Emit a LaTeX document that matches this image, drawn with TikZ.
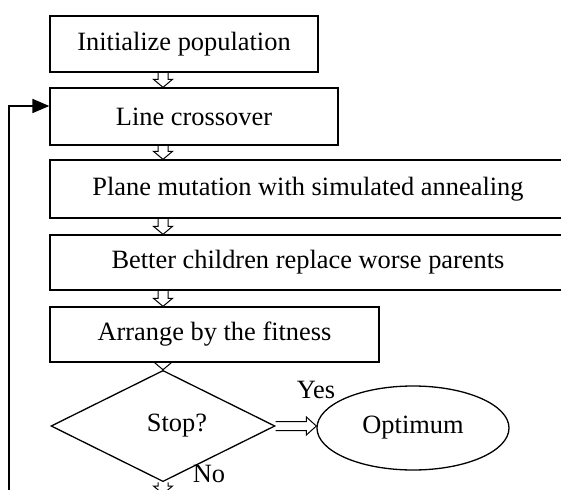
\documentclass[tikz,border=0pt]{standalone}
\usepackage{fontspec}
\setmainfont{Liberation Serif}
\usetikzlibrary{shapes.geometric,arrows.meta,calc}

\tikzset{
  flowtext/.style={font=\fontsize{26.4}{30}\selectfont, inner sep=0pt},
  stepbox/.style={flowtext, draw, line width=1.3pt},
  hollowdown/.style={line width=1pt, to path={let \p1=(\tikztostart), \p2=(\tikztotarget) in
    (\x1-5pt,\y1) -- (\x1-5pt,\y2+8pt) -- (\x1-9.5pt,\y2+8pt) -- (\x1,\y2)
    -- (\x1+9.5pt,\y2+8pt) -- (\x1+5pt,\y2+8pt) -- (\x1+5pt,\y1)}},
  hollowright/.style={line width=1pt, to path={let \p1=(\tikztostart), \p2=(\tikztotarget) in
    (\x1,\y1+4.5pt) -- (\x2-10pt,\y1+4.5pt) -- (\x2-10pt,\y1+9pt) -- (\x2,\y1)
    -- (\x2-10pt,\y1-9pt) -- (\x2-10pt,\y1-4.5pt) -- (\x1,\y1-4.5pt)}},
  loopline/.style={line width=1.8pt, -{Triangle[length=17pt,width=14pt]}}
}

\begin{document}
\begin{tikzpicture}[x=1pt, y=-1pt]
\useasboundingbox (0,0) rectangle (561,489);
\clip (0,0) rectangle (561,489);
\node[stepbox, minimum width=268pt, minimum height=56pt] (init) at (184,44) {Initialize population};
\node[stepbox, minimum width=288pt, minimum height=57pt] (cross) at (194,116.5) {Line crossover};
\node[stepbox, minimum width=516pt, minimum height=58pt] (mutate) at (308,189) {Plane mutation with simulated annealing};
\node[stepbox, minimum width=516pt, minimum height=55pt] (replace) at (308,262.5) {Better children replace worse parents};
\node[stepbox, minimum width=329pt, minimum height=55pt] (arrange) at (214.5,334.5) {Arrange by the fitness};
\node[stepbox, diamond, minimum width=224pt, minimum height=88pt] (stop) at (163,426) {\hspace*{28pt}Stop?};
\node[stepbox, ellipse, minimum width=192pt, minimum height=84pt] (opt) at (413,428) {Optimum};
\node[flowtext] (yes) at (316,390) {Yes};
\node[flowtext] (no) at (209,474) {No};
\coordinate (nofoot) at (163,494);
\coordinate (loopfoot) at (9,495);
\draw[hollowdown] (init.south -| stop.north) to (cross.north -| stop.north);
\draw[hollowdown] (cross.south -| stop.north) to (mutate.north -| stop.north);
\draw[hollowdown] (mutate.south -| stop.north) to (replace.north -| stop.north);
\draw[hollowdown] (replace.south -| stop.north) to (arrange.north -| stop.north);
\draw[hollowdown] (arrange.south -| stop.north) to (stop.north);
\draw[hollowdown] (stop.south) to (nofoot);
\draw[hollowright] (stop.east) to (stop.east -| opt.west);
\draw[loopline] (loopfoot) |- ([yshift=10.5pt]cross.west);
\end{tikzpicture}
\end{document}
